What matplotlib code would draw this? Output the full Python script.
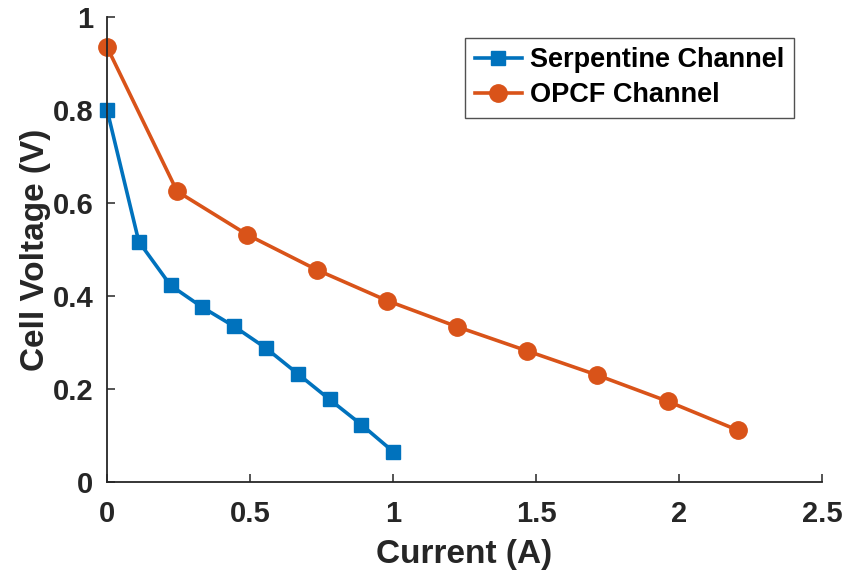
import matplotlib
matplotlib.use("Agg")
import matplotlib.pyplot as plt

serp_x = [0, 0.111, 0.222, 0.333, 0.444, 0.556, 0.667, 0.778, 0.889, 1.0]
serp_y = [0.80, 0.517, 0.423, 0.376, 0.335, 0.288, 0.233, 0.178, 0.124, 0.066]
opcf_x = [0, 0.245, 0.49, 0.735, 0.98, 1.225, 1.47, 1.715, 1.96, 2.205]
opcf_y = [0.935, 0.625, 0.532, 0.456, 0.39, 0.334, 0.282, 0.23, 0.174, 0.112]
xticks = [0, 0.5, 1, 1.5, 2, 2.5]
xticklabels = ["0", "0.5", "1", "1.5", "2", "2.5"]
yticks = [0, 0.2, 0.4, 0.6, 0.8, 1]
yticklabels = ["0", "0.2", "0.4", "0.6", "0.8", "1"]

plt.rcParams['font.family'] = ['Liberation Sans', 'DejaVu Sans']
plt.rcParams['font.weight'] = 'bold'

fig = plt.figure(figsize=(8.43, 5.81), dpi=100)
ax = fig.add_axes([0.127, 0.170, 0.848, 0.801])

ax.plot(serp_x, serp_y, color='#0072BD', lw=2.6, marker='s', ms=10, label='Serpentine Channel', clip_on=False)
ax.plot(opcf_x, opcf_y, color='#D95319', lw=2.6, marker='o', ms=12.5, label='OPCF Channel', clip_on=False)

ax.set_xlim(0, 2.5)
ax.set_ylim(0, 1)
ax.set_xticks(xticks)
ax.set_xticklabels(xticklabels)
ax.set_yticks(yticks)
ax.set_yticklabels(yticklabels)
for s in ['top', 'right']:
    ax.spines[s].set_visible(False)
for s in ['left', 'bottom']:
    ax.spines[s].set_color('#262626')
    ax.spines[s].set_linewidth(1.3)
ax.tick_params(direction='in', length=6, width=1.1, colors='#262626', labelsize=21)
ax.tick_params(axis='x', pad=13)
ax.tick_params(axis='y', pad=10)
for lab in ax.get_xticklabels() + ax.get_yticklabels():
    lab.set_fontweight('bold')
ax.set_xlabel('Current (A)', fontsize=24, fontweight='bold', color='#262626', labelpad=8)
ax.set_ylabel('Cell Voltage (V)', fontsize=24, fontweight='bold', color='#262626', labelpad=1)

leg = ax.legend(loc='upper right', bbox_to_anchor=(0.961, 0.955), fontsize=19.5, frameon=True,
                fancybox=False, edgecolor='#262626', handlelength=1.75, handletextpad=0.3,
                borderpad=0.35, labelspacing=0.33, borderaxespad=0)
leg.get_frame().set_linewidth(1.0)
for t in leg.get_texts():
    t.set_fontweight('bold')

fig.savefig('out.png', dpi=100)
